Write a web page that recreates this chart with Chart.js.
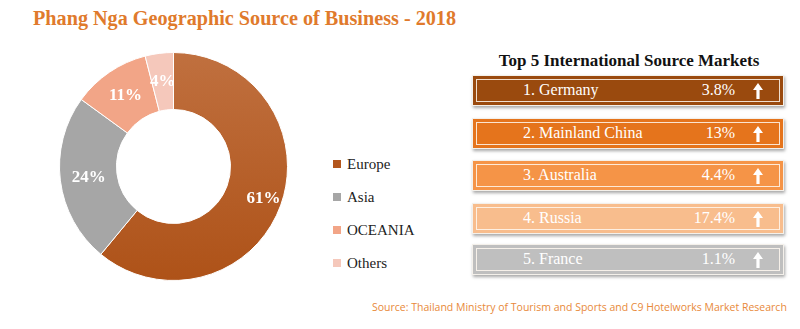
<!DOCTYPE html>
<html>

<head>
    <meta charset="UTF-8">
    <title>Phang Nga Geographic Source of Business - 2018</title>
    <script src="https://cdn.jsdelivr.net/npm/chart.js"></script>
    <style>
        body {
            margin: 0;
            width: 800px;
            height: 329px;
            background: #ffffff;
            position: relative;
            overflow: hidden;
            font-family: "Liberation Serif", serif;
        }

        .title {
            position: absolute;
            left: 33px;
            top: 7px;
            font-size: 20.2px;
            font-weight: bold;
            color: #E07A2C;
        }

        #donutWrap {
            position: absolute;
            left: 59px;
            top: 52px;
            width: 229px;
            height: 229px;
        }

        .legend {
            position: absolute;
            left: 333px;
            top: 154px;
        }

        .legend div {
            height: 33px;
            font-size: 15px;
            color: #222;
            line-height: 20px;
        }

        .legend span {
            display: inline-block;
            width: 8px;
            height: 8px;
            margin-right: 6px;
            vertical-align: 1px;
        }

        .panelTitle {
            position: absolute;
            left: 472px;
            width: 314px;
            top: 51px;
            text-align: center;
            font-size: 17px;
            font-weight: bold;
            color: #111;
        }

        .box {
            position: absolute;
            left: 472px;
            width: 312px;
            height: 31px;
            border: 1px solid #f4f0ea;
            box-shadow: 1px 2px 3px rgba(0, 0, 0, 0.35);
            color: #fff;
            font-size: 16px;
            box-sizing: border-box;
        }

        .box::before {
            content: "";
            position: absolute;
            left: 3px;
            top: 3px;
            right: 3px;
            bottom: 3px;
            border: 1px solid rgba(255, 248, 240, 0.85);
        }

        .box .name {
            position: absolute;
            left: 50px;
            top: 5px;
        }

        .box .pct {
            position: absolute;
            right: 48px;
            top: 5px;
        }

        .box svg {
            position: absolute;
            right: 20px;
            top: 7px;
        }

        .source {
            position: absolute;
            left: 372px;
            top: 300px;
            font-family: "Open Sans", sans-serif;
            font-size: 10.5px;
            color: #E8893A;
        }
    </style>
</head>

<body>
    <div class="title">Phang Nga Geographic Source of Business - 2018</div>
    <div id="donutWrap"><canvas id="donut"></canvas></div>
    <div class="legend" id="legend"></div>
    <div class="panelTitle">Top 5 International Source Markets</div>
    <div id="markets"></div>
    <div class="source">Source: Thailand Ministry of Tourism and Sports and C9 Hotelworks Market Research</div>

    <script>
        // share of business by region (%)
        const regions = ['Europe', 'Asia', 'OCEANIA', 'Others'];
        const regionShare = [61, 24, 11, 4];
        const regionColors = ['#B3561C', '#A6A6A6', '#F2A587', '#F5C8BB'];

        // top international markets and growth (%)
        const markets = ['Germany', 'Mainland China', 'Australia', 'Russia', 'France'];
        const marketGrowth = [3.8, 13, 4.4, 17.4, 1.1];
        const marketColors = ['#9A4A0E', '#E5741C', '#F59447', '#F8BD8D', '#BFBFBF'];
        const boxTops = [75, 118, 160, 203, 244];

        // percentage labels drawn inside each ring segment;
        // the big slice's label sits a bit further out
        const sliceLabels = {
            id: 'sliceLabels',
            afterDatasetsDraw(chart) {
                const ctx = chart.ctx;
                const meta = chart.getDatasetMeta(0);
                const values = chart.data.datasets[0].data;
                ctx.save();
                ctx.fillStyle = '#ffffff';
                ctx.font = 'bold 17px "Liberation Serif"';
                ctx.textAlign = 'center';
                ctx.textBaseline = 'middle';
                meta.data.forEach(function (arc, i) {
                    const p = arc.getProps(['x', 'y', 'startAngle', 'endAngle', 'innerRadius', 'outerRadius'], true);
                    const mid = (p.startAngle + p.endAngle) / 2;
                    const f = values[i] > 50 ? 0.68 : 0.5;
                    const r = p.innerRadius + (p.outerRadius - p.innerRadius) * f;
                    ctx.fillText(values[i] + '%', p.x + Math.cos(mid) * r, p.y + Math.sin(mid) * r);
                });
                ctx.restore();
            }
        };

        // Europe slice gets a soft top-to-bottom shade
        function sliceFill(context) {
            const i = context.dataIndex;
            const area = context.chart.chartArea;
            if (i !== 0 || !area) return regionColors[i];
            const g = context.chart.ctx.createLinearGradient(0, area.top, 0, area.bottom);
            g.addColorStop(0, '#C0703F');
            g.addColorStop(1, '#AE5218');
            return g;
        }

        new Chart(document.getElementById('donut'), {
            type: 'doughnut',
            data: {
                labels: regions,
                datasets: [{
                    data: regionShare,
                    backgroundColor: sliceFill,
                    borderColor: '#ffffff',
                    borderWidth: 1
                }]
            },
            options: {
                responsive: true,
                maintainAspectRatio: false,
                animation: false,
                cutout: '50%',
                plugins: {
                    legend: { display: false },
                    tooltip: { enabled: false }
                }
            },
            plugins: [sliceLabels]
        });

        // legend
        const legend = document.getElementById('legend');
        regions.forEach(function (r, i) {
            const row = document.createElement('div');
            row.innerHTML = '<span style="background:' + regionColors[i] + '"></span>' + r;
            legend.appendChild(row);
        });

        // market boxes
        const arrow = '<svg width="10" height="16" viewBox="0 0 10 16"><path d="M5 0 L10 7 L6.6 7 L6.6 16 L3.4 16 L3.4 7 L0 7 Z" fill="#fff"/></svg>';
        const holder = document.getElementById('markets');
        markets.forEach(function (m, i) {
            const box = document.createElement('div');
            box.className = 'box';
            box.style.top = boxTops[i] + 'px';
            box.style.background = marketColors[i];
            box.innerHTML = '<span class="name">' + (i + 1) + '. ' + m + '</span>' +
                '<span class="pct">' + marketGrowth[i] + '%</span>' + arrow;
            holder.appendChild(box);
        });
    </script>
</body>

</html>
